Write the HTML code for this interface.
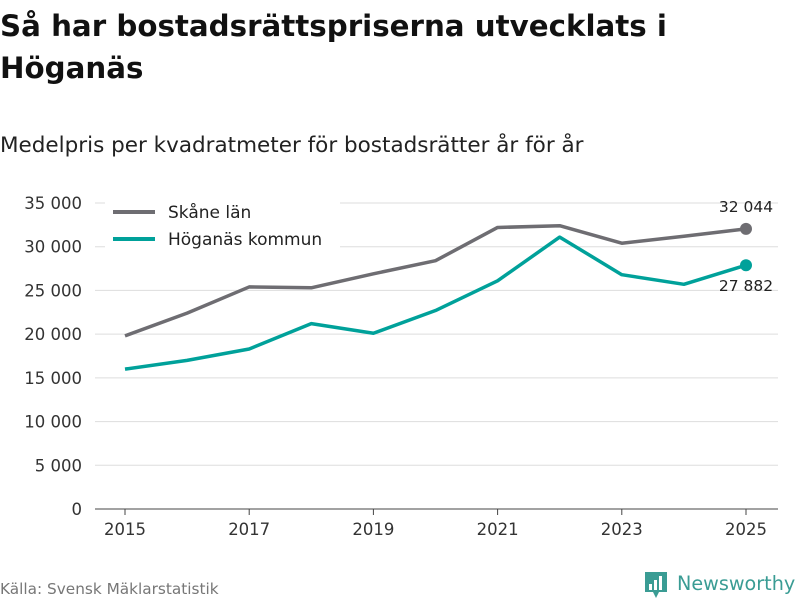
<!DOCTYPE html>
<html><head><meta charset="utf-8"><style>
body{margin:0;width:800px;height:600px;background:#fff;font-family:"DejaVu Sans","Liberation Sans",sans-serif;overflow:hidden}
</style></head><body>
<svg width="800" height="600" style="position:absolute;left:0;top:0">
<text x="0" y="36" font-size="29.3" font-weight="bold" fill="#111">Så har bostadsrättspriserna utvecklats i</text>
<text x="0" y="78" font-size="29.3" font-weight="bold" fill="#111">Höganäs</text>
<text x="0" y="152" font-size="21.5" fill="#222">Medelpris per kvadratmeter för bostadsrätter år för år</text>
<g id="grid"></g><g id="lines"></g>
<g>
<rect x="105" y="197" width="235" height="60" fill="#fff"/>
<line x1="113" y1="212" x2="155" y2="212" stroke="#6e6d72" stroke-width="4"/>
<text x="168" y="218" font-size="17" fill="#222">Skåne län</text>
<line x1="113" y1="239" x2="155" y2="239" stroke="#00a19a" stroke-width="4"/>
<text x="168" y="245" font-size="17" fill="#222">Höganäs kommun</text>
</g>
<text x="0" y="594" font-size="15.3" fill="#777">Källa: Svensk Mäklarstatistik</text>
<g>
<path d="M645 572h22v20h-8l-3 6-3-6h-8z" fill="#3a9c94"/>
<rect x="649" y="584" width="3" height="6" fill="#fff"/><rect x="654" y="580" width="3" height="10" fill="#fff"/><rect x="659" y="576" width="3" height="14" fill="#fff"/>
<text x="677" y="590" font-size="19.2" fill="#3a9c94">Newsworthy</text>
</g>
</svg>
<script>
const years=[2015,2016,2017,2018,2019,2020,2021,2022,2023,2024,2025];
const skane=[19800,22400,25400,25300,26900,28400,32200,32400,30400,31200,32044];
const hoganas=[16000,17000,18300,21200,20100,22700,26100,31100,26800,25700,27882];
const yTicks=[0,5000,10000,15000,20000,25000,30000,35000];
const xTicks=[2015,2017,2019,2021,2023,2025];
const NS="http://www.w3.org/2000/svg";
const xs=y=>125+(y-2015)*62.1, ys=v=>509-v*306/35000;
const fmt=v=>v.toString().replace(/\B(?=(\d{3})+(?!\d))/g," ");
function mk(t,a,p){const e=document.createElementNS(NS,t);for(const k in a)e.setAttribute(k,a[k]);p.appendChild(e);return e;}
const g=document.getElementById('grid'),L=document.getElementById('lines');
yTicks.forEach(v=>{
 const l=mk('line',{x1:95,x2:778,y1:ys(v),y2:ys(v),stroke:v?'#ddd':'#444','stroke-width':1},g);
 
 
 const t=mk('text',{x:82,y:ys(v)+6,'font-size':16.5,fill:'#333','text-anchor':'end'},g);t.textContent=fmt(v);
 
 
});
xTicks.forEach(y=>{
 const l=mk('line',{x1:xs(y),x2:xs(y),y1:509,y2:515,stroke:'#444'},g);
 
 
 const t=mk('text',{x:xs(y),y:535,'font-size':16.5,fill:'#333','text-anchor':'middle'},g);t.textContent=y;
 
 
});
[[skane,'#6e6d72','skane-line',-17],[hoganas,'#00a19a','hoganas-line',26]].forEach(([d,c,n,dy])=>{
 const p=mk('polyline',{points:d.map((v,i)=>xs(years[i])+','+ys(v)).join(' '),fill:'none',stroke:c,'stroke-width':3.5,'stroke-linejoin':'round'},L);
 
 
 const last=d.length-1;
 const c2=mk('circle',{cx:xs(years[last]),cy:ys(d[last]),r:6,fill:c},L);
 
 
 const t=mk('text',{x:xs(years[last]),y:ys(d[last])+dy,'font-size':15.5,fill:'#222','text-anchor':'middle'},L);t.textContent=fmt(d[last]);
 
 
});
</script>
</body></html>
